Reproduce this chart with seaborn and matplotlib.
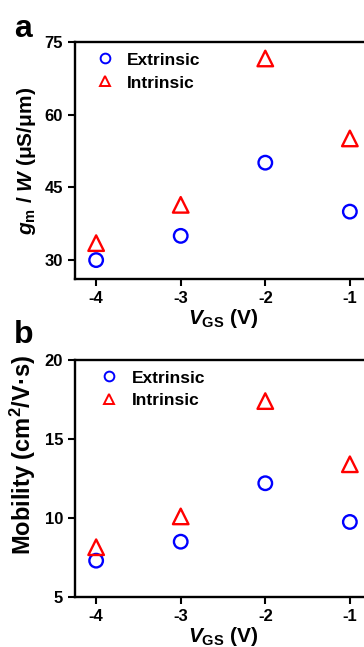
import pandas as pd
import matplotlib
matplotlib.use("Agg")
import matplotlib.pyplot as plt
import seaborn as sns
from matplotlib.lines import Line2D

vgs = [-4, -3, -2, -1]
gm_extrinsic = [30.0, 35.0, 50.1, 40.0]
gm_intrinsic = [33.5, 41.4, 71.6, 55.1]
mu_extrinsic = [7.3, 8.5, 12.2, 9.75]
mu_intrinsic = [8.15, 10.1, 17.4, 13.4]
xticks = [-4, -3, -2, -1]

sns.set_style("ticks")
plt.rcParams["font.family"] = ["Liberation Sans", "DejaVu Sans"]
plt.rcParams["font.weight"] = "bold"
plt.rcParams["axes.labelweight"] = "bold"
plt.rcParams["text.color"] = "black"
plt.rcParams["axes.labelcolor"] = "black"
plt.rcParams["xtick.color"] = "black"
plt.rcParams["ytick.color"] = "black"
plt.rcParams["mathtext.fontset"] = "custom"
plt.rcParams["mathtext.rm"] = "Liberation Sans:bold"
plt.rcParams["mathtext.bf"] = "Liberation Sans:bold"
plt.rcParams["mathtext.it"] = "Liberation Sans:bold:italic"

palette = {"Extrinsic": "#0000ff", "Intrinsic": "#ff0000"}
markers = {"Extrinsic": "o", "Intrinsic": "^"}
sizes = {"Extrinsic": 95, "Intrinsic": 125}

fig = plt.figure(figsize=(3.64, 6.47), dpi=100)
W, H = 364, 647


def panel(top, bottom, ext, intr, ylim, yticks, ylabel, ylsize, ylpos,
          letter, lety, legx, legsp):
    ax = fig.add_axes([75 / W, 1 - bottom / H, (371 - 75) / W, (bottom - top) / H])
    df = pd.DataFrame({
        "VGS": vgs * 2,
        "val": ext + intr,
        "type": ["Extrinsic"] * 4 + ["Intrinsic"] * 4,
    })
    sns.scatterplot(data=df, x="VGS", y="val", hue="type", style="type", size="type",
                    palette=palette, markers=markers, sizes=sizes, ax=ax, legend=False)
    for coll in ax.collections:
        fc = coll.get_facecolors()
        coll.set_edgecolors(fc)
        coll.set_facecolors("none")
        coll.set_linewidths(1.7)
    handles = [Line2D([], [], linestyle="", marker=markers[k], markersize=7,
                      markerfacecolor="none", markeredgecolor=palette[k],
                      markeredgewidth=1.4, label=k) for k in ["Extrinsic", "Intrinsic"]]
    ax.legend(handles=handles, loc="upper left", frameon=False,
              handlelength=1.0, handletextpad=0.8, labelspacing=legsp,
              borderaxespad=0.2, bbox_to_anchor=(legx, 1.0),
              prop={"weight": "bold", "size": 12.5})
    ax.set_xlim(-4.25, -0.75)
    ax.set_ylim(*ylim)
    ax.set_xticks(xticks)
    ax.set_xticklabels([str(t) for t in xticks])
    ax.set_yticks(yticks)
    ax.tick_params(direction="out", length=5, width=1.5, labelsize=12)
    for lab in ax.get_xticklabels() + ax.get_yticklabels():
        lab.set_fontweight("bold")
    for sp in ax.spines.values():
        sp.set_linewidth(1.7)
        sp.set_color("black")
    ax.set_xlabel(r"$V_{\mathrm{GS}}$ (V)", fontsize=15, labelpad=1)
    ax.set_ylabel(ylabel, fontsize=ylsize)
    ax.yaxis.set_label_coords(-0.125, ylpos)
    fig.text(14 / W, 1 - lety / H, letter, fontsize=23, fontweight="bold",
             va="top", ha="left")
    return ax


panel(42, 279, gm_extrinsic, gm_intrinsic, (26.1, 75), [30, 45, 60, 75],
      r"$g_{\mathrm{m}}$ / $W$ (μS/μm)", 15, 0.5, "a", 14, 0.036, 0.45)
panel(360, 597, mu_extrinsic, mu_intrinsic, (5, 20), [5, 10, 15, 20],
      r"Mobility (cm$^{2}$/V·s)", 17, 0.6, "b", 320, 0.05, 0.42)

fig.savefig("out.png", dpi=100)
